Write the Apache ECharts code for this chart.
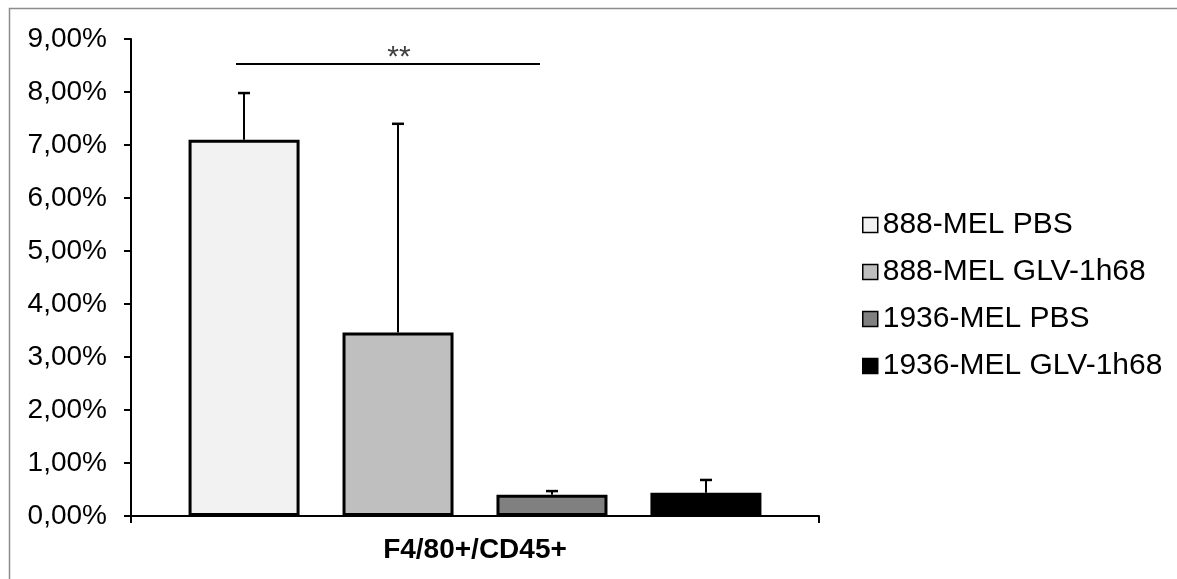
<!DOCTYPE html>
<html>
<head>
<meta charset="utf-8">
<script src="https://cdn.jsdelivr.net/npm/echarts@6/dist/echarts.min.js"></script>
<style>
  html, body { margin: 0; padding: 0; background: #fff; }
  #chart { width: 1177px; height: 579px; }
</style>
</head>
<body>
<div id="chart"></div>
<script>
// data (percent)
const categories = ['F4/80+/CD45+'];
const seriesNames = ['888-MEL PBS', '888-MEL GLV-1h68', '1936-MEL PBS', '1936-MEL GLV-1h68'];
const meanValues = [7.1, 3.46, 0.40, 0.44];
const errValues = [0.88, 3.94, 0.07, 0.24];
const barColors = ['#f2f2f2', '#bfbfbf', '#808080', '#000000'];
const yTicks = [0, 1, 2, 3, 4, 5, 6, 7, 8, 9];
const sigPair = [0, 2];   // bracket between 1st and 3rd bar
const sigLevel = 8.53;
const sigText = '**';

const BAR_W = 111;
const BAR_GAP = 43;
const FONT = "'Liberation Sans', Arial, sans-serif";

const chart = echarts.init(document.getElementById('chart'));

// x pixel of bar i inside the (single) category
function barX(api, i) {
  const c = api.coord([0, 0])[0];
  return c + (i - (seriesNames.length - 1) / 2) * (BAR_W + BAR_GAP);
}

const barSeries = seriesNames.map((name, i) => ({
  name: name,
  type: 'bar',
  barWidth: BAR_W,
  barGap: (BAR_GAP / BAR_W * 100).toFixed(1) + '%',
  data: [meanValues[i]],
  itemStyle: { color: barColors[i], borderColor: '#000', borderWidth: 3 },
  z: 2
}));

const errData = meanValues.map((v, i) => [0, v, errValues[i], i]);

const option = {
  animation: false,
  textStyle: { fontFamily: FONT },
  graphic: [{
    type: 'rect',
    shape: { x: 9.5, y: 8.5, width: 1400, height: 800 },
    style: { fill: 'none', stroke: '#8c8c8c', lineWidth: 1.5 },
    silent: true
  }],
  grid: { left: 131, right: 358, top: 39, bottom: 63 },
  legend: {
    orient: 'vertical',
    left: 862,
    top: 210,
    padding: 0,
    itemGap: 17,
    itemWidth: 15,
    itemHeight: 15,
    icon: 'rect',
    data: seriesNames,
    itemStyle: { borderColor: '#000', borderWidth: 1.5 },
    textStyle: { fontSize: 30, color: '#000', fontFamily: FONT, padding: [0, 0, 0, 0] }
  },
  xAxis: {
    type: 'category',
    data: categories,
    axisLine: { lineStyle: { color: '#000', width: 2 } },
    axisTick: { show: true, length: 7, lineStyle: { color: '#000', width: 2 } },
    axisLabel: { fontSize: 28, fontWeight: 'bold', color: '#000', margin: 20, fontFamily: FONT }
  },
  yAxis: {
    type: 'value',
    min: yTicks[0],
    max: yTicks[yTicks.length - 1],
    interval: 1,
    splitLine: { show: false },
    axisLine: { show: true, lineStyle: { color: '#000', width: 2 } },
    axisTick: { show: true, length: 7, lineStyle: { color: '#000', width: 2 } },
    axisLabel: {
      fontSize: 28, color: '#000', margin: 24, fontFamily: FONT,
      formatter: v => v.toFixed(2).replace('.', ',') + '%'
    }
  },
  series: barSeries.concat([
    {
      type: 'custom',
      name: 'err',
      data: errData,
      encode: { x: 0, y: 1 },
      z: 3,
      renderItem: function (params, api) {
        const i = api.value(3);
        const v = api.value(1);
        const e = api.value(2);
        const x = barX(api, i);
        const y0 = api.coord([0, v])[1];
        const y1 = api.coord([0, v + e])[1];
        const st = { stroke: '#000', lineWidth: 2 };
        return {
          type: 'group',
          children: [
            { type: 'line', shape: { x1: x, y1: y0, x2: x, y2: y1 }, style: st },
            { type: 'line', shape: { x1: x - 6, y1: y1, x2: x + 6, y2: y1 }, style: { stroke: '#000', lineWidth: 2.5 } }
          ]
        };
      }
    },
    {
      type: 'custom',
      name: 'sig',
      data: [[0, sigLevel]],
      encode: { x: 0, y: 1 },
      z: 3,
      renderItem: function (params, api) {
        const xa = barX(api, sigPair[0]) - 8;
        const xb = barX(api, sigPair[1]) - 12;
        const y = api.coord([0, api.value(1)])[1];
        return {
          type: 'group',
          children: [
            { type: 'line', shape: { x1: xa, y1: y, x2: xb, y2: y }, style: { stroke: '#000', lineWidth: 2 } },
            { type: 'text', x: (xa + xb) / 2 + 11, y: y - 6,
              style: { text: sigText, fill: '#404040', font: '30px ' + FONT, align: 'center', verticalAlign: 'middle' } }
          ]
        };
      }
    }
  ])
};

chart.setOption(option);
</script>
</body>
</html>
